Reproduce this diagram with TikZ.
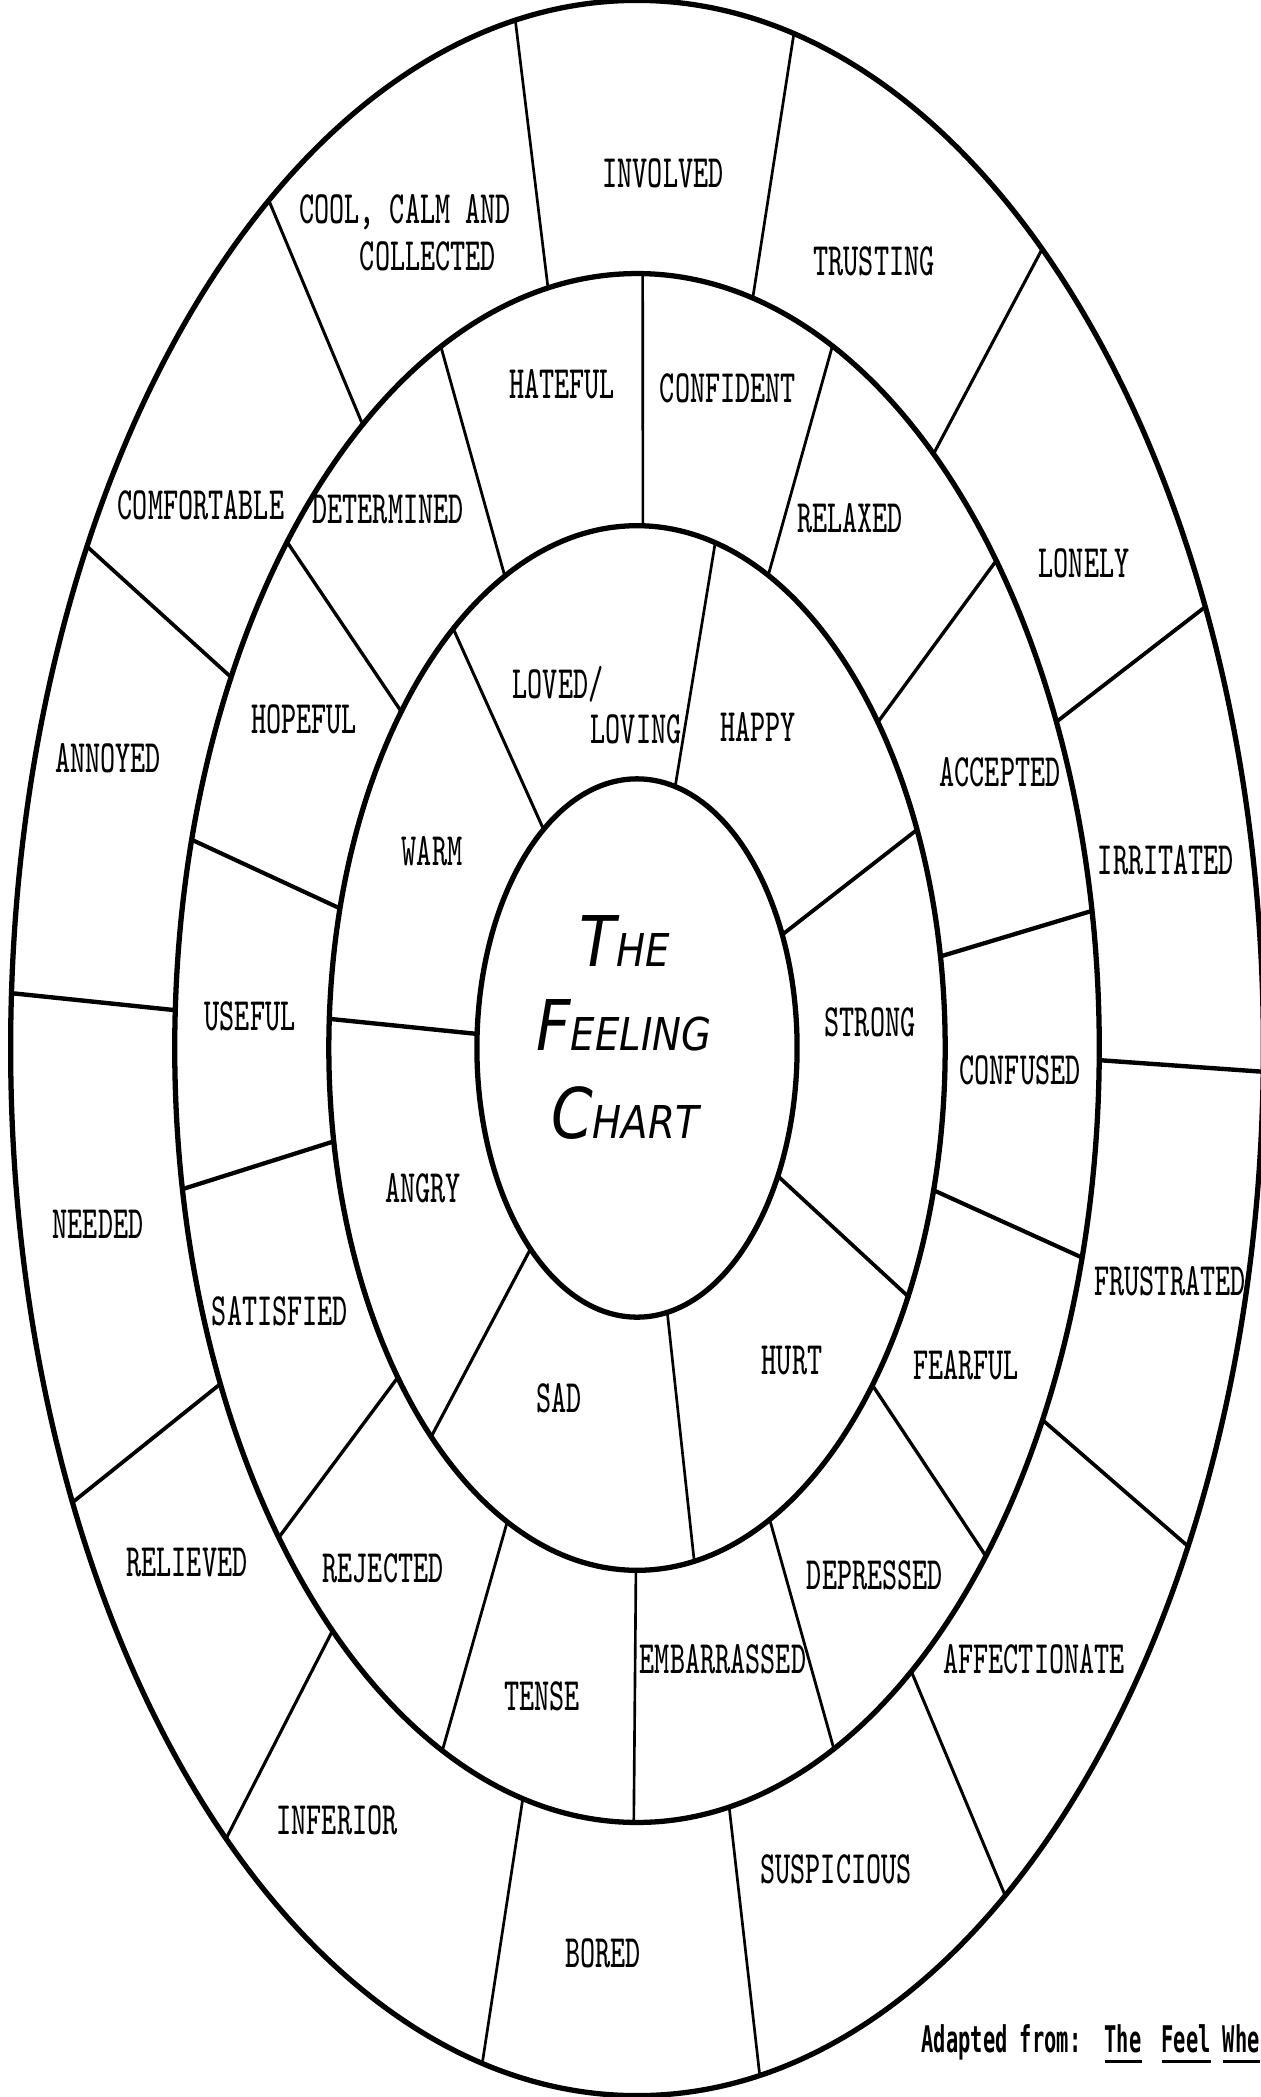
\documentclass[tikz,border=0pt]{standalone}
\usepackage{fontspec}
\usepackage{graphicx}
\newfontfamily\handfont{DejaVu Sans}
\newfontfamily\notefont{DejaVu Sans Mono}
\usetikzlibrary{positioning}
% typed labels are stretched like the scan
\newcommand{\tw}[1]{\scalebox{1}[1.63]{#1}}
\newcommand{\hw}[2]{\scalebox{1}[1.17]{{\fontsize{17}{18}\selectfont #1}{\fontsize{11}{12}\selectfont #2}}}
\newcommand{\nw}[1]{\scalebox{1}[1.8]{#1}}
\tikzset{
  ring/.style={line width=1.5pt},
  spoke/.style={line cap=round},
  feel/.style={font=\fontsize{8.1}{9}\selectfont\ttfamily,inner sep=0pt},
  handtitle/.style={font=\handfont\itshape,inner sep=0pt},
  credit/.style={font=\notefont\bfseries\fontsize{5.8}{7}\selectfont,
    inner sep=0pt,anchor=base west},
}

\begin{document}
\begin{tikzpicture}[x=0.01cm,y=-0.01cm]
  \useasboundingbox (0,0) rectangle (1260,2097);
  \coordinate (ctr) at (637,1048);
  \begin{scope}[shift={(ctr)}]
    % rings
    \draw[ring] (0,0) ellipse [x radius=1.60cm,y radius=2.69cm];
    \draw[ring] (0,0) ellipse [x radius=3.08cm,y radius=5.22cm];
    \draw[ring] (0,0) ellipse [x radius=4.62cm,y radius=7.74cm];
    \draw[ring] (0,0) ellipse [x radius=6.26cm,y radius=10.47cm];
    % spokes, inner ring
    \foreach \a/\b in {125.7/126.6,76.2/75.3,24.9/24.7,-28.4/-28.4,
        -79.1/-79.3,-131.7/-131.9,177/176.8}{
      \pgfmathsetmacro\lw{0.75*1.67/sqrt(cos(\a)^2+2.79*sin(\a)^2)}
      \draw[spoke,line width=\lw pt] (\a:1.60cm and 2.69cm) -- (\b:3.08cm and 5.22cm);}
    % spokes, middle ring
    \foreach \a/\b in {115.4/115.1,88.9/89.3,64.8/65.0,38.6/39.0,10.1/10.2,
        -15.8/-15.7,-40.2/-41.0,-64.5/-64.8,-90.2/-90.4,-114.9/-114.9,
        -140.9/-140.8,-169.7/-169.5,164.5/164.4,139.9/139.2}{
      \pgfmathsetmacro\lw{0.75*1.67/sqrt(cos(\a)^2+2.79*sin(\a)^2)}
      \draw[spoke,line width=\lw pt] (\a:3.08cm and 5.22cm) -- (\b:4.62cm and 7.74cm);}
    % spokes, outer ring
    \foreach \a/\b in {101.1/101.2,75.5/75.5,50.1/49.7,24.9/24.9,-0.9/-1.3,
        -28.7/-28.4,-53.6/-54,-78.5/-78.7,-104.3/-104.3,-131.2/-131.0,
        -154.3/-154.3,177.2/177,151.4/151.4,126.4/126.0}{
      \pgfmathsetmacro\lw{0.75*1.67/sqrt(cos(\a)^2+2.79*sin(\a)^2)}
      \draw[spoke,line width=\lw pt] (\a:4.62cm and 7.74cm) -- (\b:6.26cm and 10.47cm);}
  \end{scope}

  % outer ring
  \node[feel] (cool) at (405,212) {\tw{COOL, CALM AND}};
  \node[feel] (collected) at (428,256) {\tw{COLLECTED}};
  \node[feel] (involved) at (663,173) {\tw{INVOLVED}};
  \node[feel] (trusting) at (874,261) {\tw{TRUSTING}};
  \node[feel] (lonely) at (1084,563) {\tw{LONELY}};
  \node[feel] (irritated) at (1166,860) {\tw{IRRITATED}};
  \node[feel] (frustrated) at (1170,1281) {\tw{FRUSTRATED}};
  \node[feel] (affectionate) at (1034,1659) {\tw{AFFECTIONATE}};
  \node[feel] (suspicious) at (836,1869) {\tw{SUSPICIOUS}};
  \node[feel] (bored) at (603,1953) {\tw{BORED}};
  \node[feel] (inferior) at (337,1820) {\tw{INFERIOR}};
  \node[feel] (relieved) at (187,1563) {\tw{RELIEVED}};
  \node[feel] (needed) at (98,1224) {\tw{NEEDED}};
  \node[feel] (annoyed) at (108,758) {\tw{ANNOYED}};
  \node[feel] (comfortable) at (201,505) {\tw{COMFORTABLE}};
  % middle ring
  \node[feel] (hateful) at (562,384) {\tw{HATEFUL}};
  \node[feel] (confident) at (728,388) {\tw{CONFIDENT}};
  \node[feel] (relaxed) at (850,518) {\tw{RELAXED}};
  \node[feel] (accepted) at (1000,772) {\tw{ACCEPTED}};
  \node[feel] (confused) at (1020,1070) {\tw{CONFUSED}};
  \node[feel] (fearful) at (966,1365) {\tw{FEARFUL}};
  \node[feel] (depressed) at (875,1575) {\tw{DEPRESSED}};
  \node[feel] (embarrassed) at (723,1659) {\tw{EMBARRASSED}};
  \node[feel] (tense) at (542,1696) {\tw{TENSE}};
  \node[feel] (rejected) at (383,1568) {\tw{REJECTED}};
  \node[feel] (satisfied) at (280,1311) {\tw{SATISFIED}};
  \node[feel] (useful) at (250,1016) {\tw{USEFUL}};
  \node[feel] (hopeful) at (304,719) {\tw{HOPEFUL}};
  \node[feel] (determined) at (388,510) {\tw{DETERMINED}};
  % inner ring
  \node[feel] (loved) at (558,684) {\tw{LOVED/}};
  \node[feel] (loving) at (636,729) {\tw{LOVING}};
  \node[feel] (happy) at (758,727) {\tw{HAPPY}};
  \node[feel] (strong) at (870,1022) {\tw{STRONG}};
  \node[feel] (hurt) at (792,1361) {\tw{HURT}};
  \node[feel] (sad) at (559,1398) {\tw{SAD}};
  \node[feel] (angry) at (423,1188) {\tw{ANGRY}};
  \node[feel] (warm) at (432,851) {\tw{WARM}};
  % centre
  \node[handtitle] (the) at (625,941) {\hw{T}{HE}};
  \node[handtitle] (feeling) at (624,1025) {\hw{F}{EELING}};
  \node[handtitle] (chart) at (625,1113) {\hw{C}{HART}};

  \node[credit] (adapted) at (921,2052) {\nw{Adapted from:}};
  \node[credit] (src1) at (1104,2052) {\nw{\underline{The}}};
  \node[credit] (src2) at (1161,2052) {\nw{\underline{Feel}}};
  \node[credit] (src3) at (1222,2052) {\nw{\underline{Whe}}};
\end{tikzpicture}
\end{document}
